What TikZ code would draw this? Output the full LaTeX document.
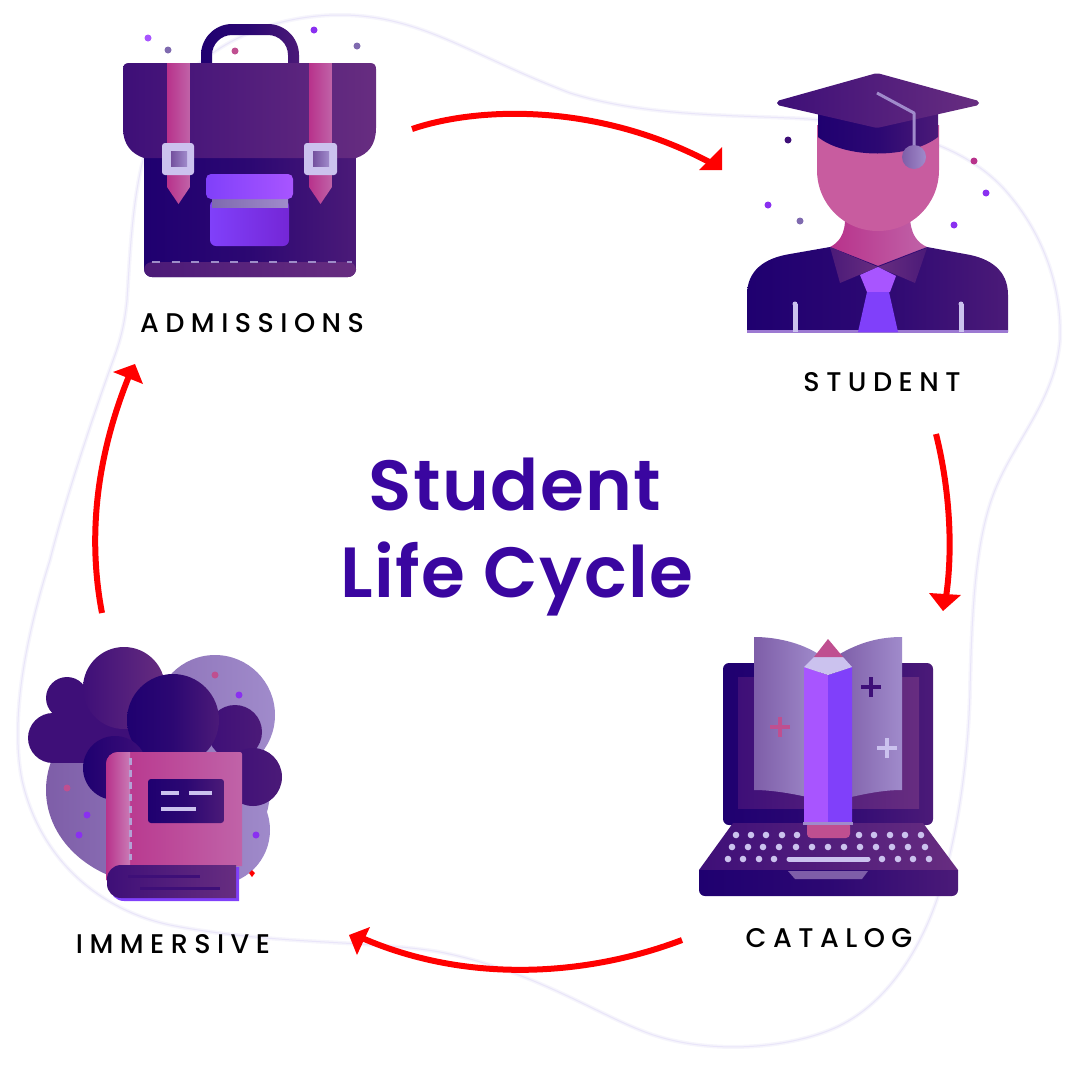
\documentclass[tikz,border=0pt]{standalone}
\usepackage{fontspec}
\newfontfamily\titlefont[LetterSpace=2]{Poppins SemiBold}
\newfontfamily\labelfont[LetterSpace=24]{Poppins Medium}
\definecolor{cnavy}{HTML}{1F0070}
\definecolor{cplum}{HTML}{4B1A78}
\definecolor{cdeep}{HTML}{3E0F78}
\definecolor{cmauve}{HTML}{672D80}
\definecolor{cpinkA}{HTML}{B8328B}
\definecolor{cpinkB}{HTML}{C063A8}
\definecolor{cface}{HTML}{C85C9F}
\definecolor{clilacA}{HTML}{7E5EA8}
\definecolor{clilacB}{HTML}{A08BCB}
\definecolor{cviolet}{HTML}{8A30F0}
\definecolor{cbright}{HTML}{A855FF}
\definecolor{cvivid}{HTML}{8040FA}
\definecolor{cpale}{HTML}{CBC2EE}
\definecolor{cgrey}{HTML}{7F6AAF}
\definecolor{crose}{HTML}{BF4F90}
\definecolor{cink}{HTML}{3A06A0}
\definecolor{carrow}{HTML}{FF0000}
\definecolor{cblob}{HTML}{E9E5F9}
\definecolor{cglow}{HTML}{F6F5FC}
\tikzset{
  gnavy/.style={left color=cnavy,right color=cplum,middle color=cnavy!70!cplum},
  gflap/.style={left color=cdeep,right color=cmauve},
  gpink/.style={left color=cpinkA,right color=cpinkB},
  glilac/.style={left color=clilacA,right color=clilacB},
  flow/.style={draw=carrow,line width=6pt},
  tip/.style={fill=carrow},
  title/.style={font=\titlefont\fontsize{71}{71}\selectfont,text=cink,anchor=base,inner sep=0pt},
  stage/.style={font=\labelfont\fontsize{27}{27}\selectfont,text=black,anchor=base,inner sep=0pt},
  spot/.style={radius=3.5},
}
\begin{document}
\begin{tikzpicture}[x=1pt,y=-1pt]
\useasboundingbox (0,0) rectangle (1076,1074);
% blob
\def\blobpath{(127,300) .. controls (132,220) and (135,150) .. (170,95) .. controls (205,45) and (270,15) .. (340,15) .. controls (420,15) and (470,55) .. (570,93) .. controls (640,115) and (720,115) .. (790,118) .. controls (880,122) and (960,140) .. (1005,190) .. controls (1045,235) and (1062,290) .. (1060,340) .. controls (1055,400) and (1015,440) .. (995,490) .. controls (975,540) and (972,610) .. (970,690) .. controls (968,770) and (955,850) .. (935,905) .. controls (915,960) and (880,1010) .. (830,1030) .. controls (780,1050) and (700,1055) .. (640,1030) .. controls (590,1010) and (530,970) .. (440,952) .. controls (370,940) and (270,945) .. (170,925) .. controls (100,910) and (40,860) .. (22,780) .. controls (10,720) and (25,640) .. (50,560) .. controls (65,500) and (95,410) .. (115,355) .. controls (122,335) and (125,320) .. (127,300) -- cycle}
\draw[cglow,line width=4pt] \blobpath;
\draw[cblob,line width=1pt] \blobpath;

% ---------- briefcase
\foreach \x/\y/\c in {148/38/cbright,168/50/cgrey,235/51/crose,314/30/cviolet,357/46/cgrey}
  \fill[\c] (\x,\y) circle[spot];
\shade[gnavy] (201,70)--(201,55) .. controls (201,38) and (215,24) .. (232,24) -- (268,24) .. controls (285,24) and (299,38) .. (299,55) -- (299,70) -- (288,70) -- (288,55) .. controls (288,44) and (279,35) .. (268,35) -- (232,35) .. controls (221,35) and (212,44) .. (212,55) -- (212,70) -- cycle;
\shade[gnavy,rounded corners=8] (144,150)--(144,277)--(356,277)--(356,150)--cycle;
\shade[left color=cplum,right color=cmauve,rounded corners=8] (144,262)--(144,277)--(356,277)--(356,262)--cycle;
\draw[cgrey!60!cpale,line width=2.5pt,dash pattern=on 8pt off 11.5pt,dash phase=-4pt] (148,262)--(352,262);
\shade[gflap] (129,63) -- (370,63) .. controls (374,63) and (376,65) .. (376,69) -- (376,128) .. controls (376,145) and (368,154) .. (356,158) -- (144,158) .. controls (132,154) and (123,145) .. (123,128) -- (123,69) .. controls (123,65) and (125,63) .. (129,63) -- cycle;
\shade[gpink] (167,63)--(190,63)--(190,187)--(178.5,204)--(167,187)--cycle;
\shade[gpink] (309,63)--(332,63)--(332,187)--(320.5,204)--(309,187)--cycle;
\fill[cpale,rounded corners=3] (162,143) rectangle (194,175);
\shade[left color=clilacA!80!cplum,right color=clilacB] (171,151) rectangle (187,166);
\fill[cpale,rounded corners=3] (304,143) rectangle (337,175);
\shade[left color=clilacA!80!cplum,right color=clilacB] (313,151) rectangle (329,166);
\shade[left color=cvivid,right color=cviolet!80!cnavy,rounded corners=6] (210,200)--(210,246)--(289,246)--(289,200)--cycle;
\shade[left color=cgrey,right color=clilacB] (212,198) rectangle (288,207);
\shade[left color=cvivid,right color=cbright,rounded corners=5] (206,174)--(206,199)--(293,199)--(293,174)--cycle;

% ---------- student
\foreach \x/\y/\c in {788/140/cdeep,974/161/cpinkA,986/193/cviolet,954/225/cviolet,768/205/cviolet,800/221/cgrey}
  \fill[\c] (\x,\y) circle[spot];
\shade[left color=cpinkA,right color=cpinkB] (845,215) .. controls (846,235) and (838,243) .. (830,247) -- (878,268) -- (927,247) .. controls (918,243) and (910,235) .. (910,215) -- cycle;
\fill[cface] (817,125) -- (939,125) -- (939,170) .. controls (939,204) and (912,231) .. (878,231) .. controls (844,231) and (817,204) .. (817,170) -- cycle;
\shade[gnavy] (747,332)--(747,295) .. controls (747,270) and (765,258) .. (790,254) -- (830,247) -- (878,266) -- (927,247) -- (965,254) .. controls (990,258) and (1008,270) .. (1008,295) -- (1008,332) -- cycle;
\fill[clilacB!80!cviolet] (747,330) rectangle (1008,333);
\shade[left color=cplum,right color=cmauve] (830,247)--(878,267)--(840,283)--cycle;
\shade[left color=cmauve,right color=cplum] (927,248)--(878,267)--(915,283)--cycle;
\fill[cbright] (860,275)--(878,267)--(896,276)--(890,292)--(867,292)--cycle;
\fill[cvivid] (867,292)--(889,292)--(898,332)--(858,332)--cycle;
\draw[cpale,line width=5pt] (795,332)--(795,304);
\fill[cpale] (795,304) circle[radius=2.5];
\draw[cpale,line width=5pt] (961,332)--(961,304);
\fill[cpale] (961,304) circle[radius=2.5];
\shade[gnavy] (818,110)--(818,137) .. controls (845,159) and (910,159) .. (938,137) -- (938,110) -- cycle;
\shade[gflap,rounded corners=2] (877,73)--(979,101)--(979,105)--(877,128)--(777,105)--(777,101)--cycle;
\draw[clilacB,line width=3pt,line join=round] (877,93)--(914,113)--(914,147);
\shade[glilac] (914,157) circle[radius=12];

% ---------- catalog
\shade[gnavy,rounded corners=6] (723,663)--(723,825)--(933,825)--(933,663)--cycle;
\shade[gflap] (738,677) rectangle (919,808);
\shade[glilac] (754,637) .. controls (775,637) and (800,642) .. (820,655) -- (820,800) .. controls (800,795) and (775,790) .. (754,790) -- cycle;
\shade[glilac] (902,637) .. controls (880,637) and (860,642) .. (838,655) -- (838,800) .. controls (860,795) and (880,790) .. (902,790) -- cycle;
\draw[crose,line width=3.5pt] (770,727)--(790,727) (780,717)--(780,737);
\draw[cdeep,line width=3.5pt] (861,687)--(881,687) (871,677)--(871,697);
\draw[cpale,line width=3.5pt] (877,748)--(897,748) (887,738)--(887,758);
\shade[gflap] (733,823)--(923,823)--(958,870)--(699,870)--cycle;
\shade[gnavy] (699,870) [rounded corners=6] --(699,896)--(958,896) [sharp corners] --(958,870)--cycle;
\fill[clilacA] (788,871)--(868,871)--(862,879)--(795,879)--cycle;
\fill[cbright] (804,667)--(828,675)--(828,822)--(804,822)--cycle;
\fill[cvivid] (828,675)--(852,667)--(852,822)--(828,822)--cycle;
\fill[cpale] (804,667)--(814,657)--(843,657)--(852,667)--(828,675)--cycle;
\fill[crose] (814,657)--(828,639)--(843,657)--cycle;
\fill[crose,rounded corners=4] (807,822)--(807,838)--(850,838)--(850,822)--cycle;
\fill[clilacB] (803,822) rectangle (853,825);
\foreach \x in {736,751,766,782,797,859,874,890,905,921} \fill[cpale] (\x,835) circle[radius=3.3];
\foreach \x in {732,748,763,779,796,812,828,844,860,876,892,908,925} \fill[cpale] (\x,847) circle[radius=3.3];
\foreach \x in {728,743,759,774,882,898,913,929} \fill[cpale] (\x,859) circle[radius=3.3];
\draw[cpale,line width=5pt,line cap=round] (789,859)--(868,859);

% ---------- immersive
\shade[glilac] (215,715) circle[radius=60] (158,790) ellipse[x radius=112,y radius=95] (215,830) circle[radius=55];
\foreach \x/\y/\c in {215/675/crose,239/695/cviolet,67/788/crose,87/815/cviolet,79/835/cviolet,256/835/cviolet}
  \fill[\c] (\x,\y) circle[spot];
\fill[cdeep] (67,698) circle[radius=21];
\fill[cdeep] (53,738) circle[radius=25];
\fill[cdeep] (53,713) rectangle (200,763);
\fill[cdeep] (67,685) rectangle (100,720);
\shade[gflap] (124,688) circle[radius=41];
\shade[left color=cdeep,right color=cplum] (235,732) circle[radius=27];
\shade[left color=cdeep,right color=cplum] (253,777) circle[radius=29];
\shade[gnavy] (173,720) circle[radius=46];
\shade[left color=cnavy,right color=cdeep] (115,768) circle[radius=32];
\fill[carrow] (252,870)--(255,873)--(252,877)--(249,873)--cycle;
\shade[gpink] (106,880) [rounded corners=12] --(106,752) [rounded corners=2] --(242,752) [sharp corners] --(242,866)--(130,866)--(130,880)--cycle;
\shade[left color=cpinkA,right color=cpinkB!85!white] (106,880) [rounded corners=12] --(106,752) [sharp corners] --(130,752)--(130,880)--cycle;
\draw[clilacB!80!white,line width=3pt,dash pattern=on 7pt off 5pt] (130,758)--(130,860);
\shade[gnavy,rounded corners=3] (148,779)--(148,823)--(224,823)--(224,779)--cycle;
\draw[cpale,line width=3.5pt] (161,793)--(179,793) (189,793)--(212,793) (161,809)--(196,809);
\fill[cvivid] (239,867) [rounded corners=14] --(110,867)--(110,901) [sharp corners] --(239,901)--cycle;
\shade[gflap] (236,865) [rounded corners=14] --(107,865)--(107,898) [sharp corners] --(236,898)--cycle;
\draw[cdeep,line width=3pt] (128,876)--(200,876) (140,888)--(220,888);

% ---------- connectors
\coordinate (a1s) at (412,129); \coordinate (a1e) at (713,164);
\coordinate (a2s) at (936,434); \coordinate (a2e) at (946,597);
\coordinate (a3s) at (682,940); \coordinate (a3e) at (362,938);
\coordinate (a4s) at (102,613); \coordinate (a4e) at (129,376);
\draw[flow] (a1s) .. controls (480,106) and (600,103) .. (a1e);
\fill[tip] (722,147)--(722,170)--(699,170)--cycle;
\draw[flow] (a2s) .. controls (950,490) and (953,550) .. (a2e);
\fill[tip] (929,593)--(961,595)--(943,611)--cycle;
\draw[flow] (a3s) .. controls (590,975) and (470,985) .. (a3e);
\fill[tip] (370,927)--(349,935)--(357,955)--cycle;
\draw[flow] (a4s) .. controls (88,540) and (95,460) .. (a4e);
\fill[tip] (113,372)--(135,364)--(143,384)--cycle;

% ---------- text
\node[title] (t1) at (515,510) {Student};
\node[title] (t2) at (517,597) {Life Cycle};
\node[stage] (admissions) at (252,332) {ADMISSIONS};
\node[stage] (student) at (882,391) {STUDENT};
\node[stage] (catalog) at (829,947) {CATALOG};
\node[stage] (immersive) at (173,953) {IMMERSIVE};
\end{tikzpicture}
\end{document}
